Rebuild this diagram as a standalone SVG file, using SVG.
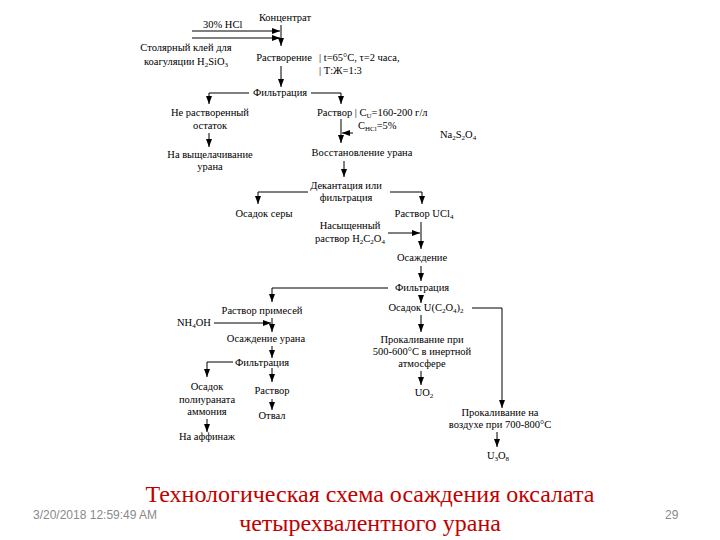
<svg xmlns="http://www.w3.org/2000/svg" width="720" height="540" viewBox="0 0 720 540">
<defs>
<marker id="ah" markerUnits="userSpaceOnUse" markerWidth="8" markerHeight="6" refX="8" refY="3" orient="auto">
<path d="M0,0 L8,3 L0,6 z" fill="#000"/>
</marker>
<style>
.t{font-family:"Liberation Serif","Times New Roman",serif;font-size:10.5px;fill:#000}
.m{text-anchor:middle}
.c line,.c polyline{stroke:#000;stroke-width:1;fill:none}
.a{marker-end:url(#ah)}
.title{font-family:"Liberation Serif","Times New Roman",serif;font-size:24px;fill:#C00000;text-anchor:middle}
.foot{font-family:"Liberation Sans",Arial,sans-serif;font-size:12px;fill:#8a8a8a}
</style>
</defs>
<rect width="720" height="540" fill="#fff"/>
<g class="c">
<line class="a" x1="281" y1="25" x2="281" y2="46"/>
<line class="a" x1="192" y1="31" x2="280" y2="31"/>
<line class="a" x1="192" y1="38" x2="280" y2="38"/>
<line class="a" x1="281" y1="66" x2="281" y2="87"/>
<polyline class="a" points="249,93 209,93 209,104"/>
<polyline class="a" points="311,93 341,93 341,104"/>
<line class="a" x1="209" y1="133" x2="209" y2="147"/>
<line class="a" x1="341" y1="119" x2="341" y2="143"/>
<line class="a" x1="353" y1="133" x2="342" y2="133"/>
<line class="a" x1="344" y1="161" x2="344" y2="177"/>
<polyline class="a" points="308,192 258,192 258,204"/>
<polyline class="a" points="390,192 422,192 422,204"/>
<line class="a" x1="421" y1="222" x2="421" y2="249"/>
<line class="a" x1="388" y1="233" x2="420" y2="233"/>
<line class="a" x1="421" y1="266" x2="421" y2="281"/>
<polyline class="a" points="388,288 272,288 272,302"/>
<line class="a" x1="421" y1="295" x2="421" y2="303"/>
<polyline class="a" points="472,308 502,308 502,408"/>
<line class="a" x1="421" y1="315" x2="421" y2="332"/>
<line class="a" x1="421" y1="371" x2="421" y2="385"/>
<line class="a" x1="497" y1="432" x2="497" y2="447"/>
<line class="a" x1="214" y1="323" x2="271" y2="323"/>
<line class="a" x1="272" y1="318" x2="272" y2="332"/>
<line class="a" x1="272" y1="346" x2="272" y2="358"/>
<polyline class="a" points="233,362 207,362 207,377"/>
<line class="a" x1="272" y1="368" x2="272" y2="382"/>
<line class="a" x1="207" y1="419" x2="207" y2="432"/>
<line class="a" x1="272" y1="399" x2="272" y2="410"/>
</g>
<g id="n-concentrate"><text class="t m" x="285" y="21">Концентрат</text></g>
<g id="n-hcl"><text class="t" x="203" y="28">30% HCl</text></g>
<g id="n-glue"><text class="t m" x="186" y="51">Столярный клей для</text><text class="t m" x="186" y="65">коагуляции H<tspan font-size="7" dy="2">2</tspan><tspan dy="-2">SiO</tspan><tspan font-size="7" dy="2">3</tspan></text></g>
<g id="n-dissolve"><text class="t m" x="284" y="61">Растворение</text><text class="t" x="319" y="61">| t=65°C, τ=2 часа,</text><text class="t" x="319" y="74">| Т:Ж=1:3</text></g>
<g id="n-filt1"><text class="t m" x="280" y="96">Фильтрация</text></g>
<g id="n-residue"><text class="t m" x="210" y="116">Не растворенный</text><text class="t m" x="210" y="129">остаток</text></g>
<g id="n-leach"><text class="t m" x="210" y="158">На выщелачивание</text><text class="t m" x="210" y="170">урана</text></g>
<g id="n-solution"><text class="t" x="317" y="116">Раствор | C<tspan font-size="7" dy="2">U</tspan><tspan dy="-2">=160-200 г/л</tspan></text><text class="t" x="358" y="129">C<tspan font-size="7" dy="2">HCl</tspan><tspan dy="-2">=5%</tspan></text></g>
<g id="n-na2s2o4"><text class="t" x="440" y="138">Na<tspan font-size="7" dy="2">2</tspan><tspan dy="-2">S</tspan><tspan font-size="7" dy="2">2</tspan><tspan dy="-2">O</tspan><tspan font-size="7" dy="2">4</tspan></text></g>
<g id="n-reduce"><text class="t m" x="362" y="156">Восстановление урана</text></g>
<g id="n-decant"><text class="t m" x="346" y="189">Декантация или</text><text class="t m" x="346" y="201">фильтрация</text></g>
<g id="n-sulfur"><text class="t m" x="264" y="217">Осадок серы</text></g>
<g id="n-ucl4"><text class="t m" x="424" y="217">Раствор UCl<tspan font-size="7" dy="2">4</tspan></text></g>
<g id="n-oxalic"><text class="t m" x="350" y="229">Насыщенный</text><text class="t m" x="350" y="242">раствор H<tspan font-size="7" dy="2">2</tspan><tspan dy="-2">C</tspan><tspan font-size="7" dy="2">2</tspan><tspan dy="-2">O</tspan><tspan font-size="7" dy="2">4</tspan></text></g>
<g id="n-precip"><text class="t m" x="422" y="261">Осаждение</text></g>
<g id="n-filt2"><text class="t m" x="422" y="291">Фильтрация</text></g>
<g id="n-uox"><text class="t m" x="426" y="311">Осадок U(C<tspan font-size="7" dy="2">2</tspan><tspan dy="-2">O</tspan><tspan font-size="7" dy="2">4</tspan><tspan dy="-2">)</tspan><tspan font-size="7" dy="2">2</tspan></text></g>
<g id="n-calc1"><text class="t m" x="422" y="343">Прокаливание при</text><text class="t m" x="422" y="355">500-600°C в инертной</text><text class="t m" x="422" y="367">атмосфере</text></g>
<g id="n-uo2"><text class="t m" x="424" y="396">UO<tspan font-size="7" dy="2">2</tspan></text></g>
<g id="n-calc2"><text class="t m" x="500" y="416">Прокаливание на</text><text class="t m" x="500" y="428">воздухе при 700-800°C</text></g>
<g id="n-u3o8"><text class="t m" x="498" y="459">U<tspan font-size="7" dy="2">3</tspan><tspan dy="-2">O</tspan><tspan font-size="7" dy="2">8</tspan></text></g>
<g id="n-impur"><text class="t m" x="262" y="314">Раствор примесей</text></g>
<g id="n-nh4oh"><text class="t" x="177" y="326">NH<tspan font-size="7" dy="2">4</tspan><tspan dy="-2">OH</tspan></text></g>
<g id="n-uprecip"><text class="t m" x="266" y="342">Осаждение урана</text></g>
<g id="n-filt3"><text class="t m" x="262" y="366">Фильтрация</text></g>
<g id="n-adu"><text class="t m" x="207" y="390">Осадок</text><text class="t m" x="207" y="403">полиураната</text><text class="t m" x="207" y="415">аммония</text></g>
<g id="n-refine"><text class="t m" x="207" y="440">На аффинаж</text></g>
<g id="n-sol2"><text class="t m" x="272" y="394">Раствор</text></g>
<g id="n-waste"><text class="t m" x="272" y="419">Отвал</text></g>
<text class="title" x="370" y="502">Технологическая схема осаждения оксалата</text>
<text class="title" x="370" y="531">четырехвалентного урана</text>
<text class="foot" x="33" y="519">3/20/2018 12:59:49 AM</text>
<text class="foot" x="665" y="519">29</text>
</svg>
